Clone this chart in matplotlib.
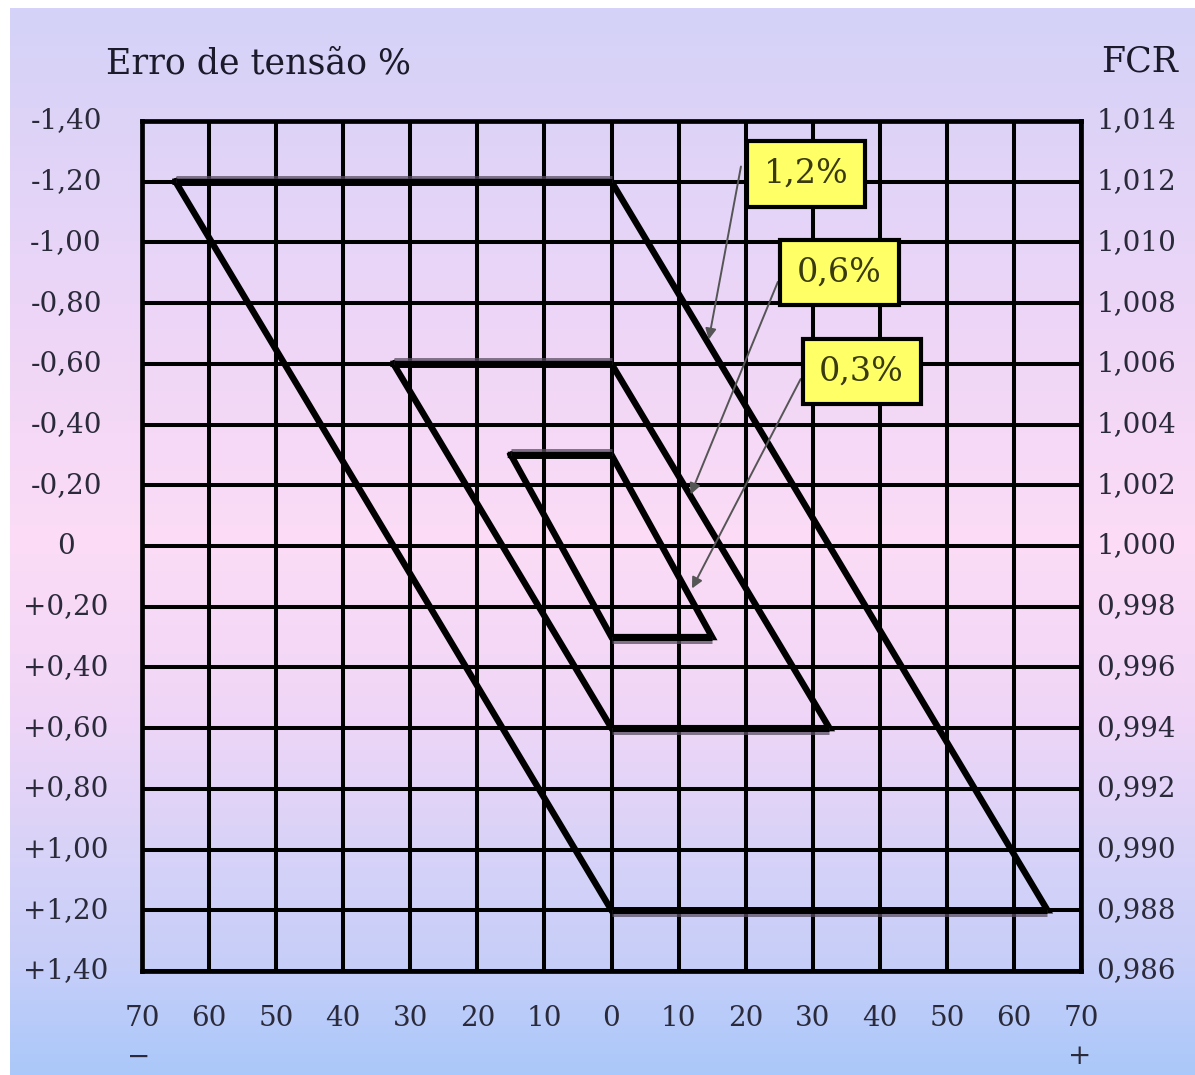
import matplotlib
matplotlib.use("Agg")
import matplotlib.pyplot as plt
import matplotlib.patheffects as pe
from matplotlib.colors import LinearSegmentedColormap
from matplotlib.transforms import blended_transform_factory
import numpy as np

# Axis values
x_ticks = [-70, -60, -50, -40, -30, -20, -10, 0, 10, 20, 30, 40, 50, 60, 70]
x_labels = ["70", "60", "50", "40", "30", "20", "10", "0", "10", "20", "30", "40", "50", "60", "70"]
y_ticks = [-1.4, -1.2, -1.0, -0.8, -0.6, -0.4, -0.2, 0.0, 0.2, 0.4, 0.6, 0.8, 1.0, 1.2, 1.4]
y_labels = ["-1,40", "-1,20", "-1,00", "-0,80", "-0,60", "-0,40", "-0,20", "0",
            "+0,20", "+0,40", "+0,60", "+0,80", "+1,00", "+1,20", "+1,40"]
fcr_labels = ["1,014", "1,012", "1,010", "1,008", "1,006", "1,004", "1,002", "1,000",
              "0,998", "0,996", "0,994", "0,992", "0,990", "0,988", "0,986"]

# Parallelogram limits (phase error, voltage error) for each accuracy class
band_12_x = [-65, 0, 65, 0, -65]
band_12_y = [-1.2, -1.2, 1.2, 1.2, -1.2]
band_06_x = [-32.5, 0, 32.5, 0, -32.5]
band_06_y = [-0.6, -0.6, 0.6, 0.6, -0.6]
band_03_x = [-15, 0, 15, 0, -15]
band_03_y = [-0.3, -0.3, 0.3, 0.3, -0.3]

# Callouts: label, box centre, arrow start, arrow tip
callout_labels = ["1,2%", "0,6%", "0,3%"]
callout_box = [(29.0, -1.225), (34.0, -0.90), (37.3, -0.575)]
callout_start = [(19.3, -1.25), (24.8, -0.87), (28.2, -0.55)]
callout_tip = [(14.5, -0.68), (11.8, -0.17), (12.0, 0.14)]

W, H = 1195, 1075
fig = plt.figure(figsize=(W / 100, H / 100), dpi=100)
fig.patch.set_facecolor("white")

# background gradient
bg = fig.add_axes([10 / W, 0, 1 - 10 / W, 1 - 8 / H], zorder=0)
cmap = LinearSegmentedColormap.from_list("bg", [
    (0.0, (212 / 255, 210 / 255, 248 / 255)),
    (0.30, (238 / 255, 214 / 255, 247 / 255)),
    (0.50, (252 / 255, 220 / 255, 246 / 255)),
    (0.66, (240 / 255, 214 / 255, 247 / 255)),
    (0.80, (214 / 255, 210 / 255, 248 / 255)),
    (0.90, (198 / 255, 206 / 255, 249 / 255)),
    (1.0, (170 / 255, 200 / 255, 250 / 255)),
])
bg.imshow(np.linspace(0, 1, 256).reshape(-1, 1), aspect="auto", cmap=cmap,
          extent=[0, 1, 1, 0])
bg.axis("off")

ax = fig.add_axes([142 / W, 1 - 971 / H, (1081 - 142) / W, (971 - 121) / H], zorder=1)
ax.patch.set_alpha(0)
ax.set_xlim(-70, 70)
ax.set_ylim(1.4, -1.4)
ax.set_xticks(x_ticks)
ax.set_yticks(y_ticks)
ax.tick_params(length=0, labelbottom=False, labelleft=False)
ax.grid(True, color="black", lw=2.9)
for s in ax.spines.values():
    s.set_linewidth(3.4)
    s.set_color("black")

shadow_up = [pe.SimpleLineShadow(offset=(0, 2.2), shadow_color="#5a4f63", alpha=0.75, rho=1),
             pe.Normal()]
shadow_dn = [pe.SimpleLineShadow(offset=(0, -2.2), shadow_color="#5a4f63", alpha=0.75, rho=1),
             pe.Normal()]
for bx, by in [(band_12_x, band_12_y), (band_06_x, band_06_y), (band_03_x, band_03_y)]:
    ax.plot(bx, by, color="black", lw=4.6, solid_joinstyle="miter", zorder=3)
    # top and bottom edges carry a grey shadow
    ax.plot(bx[0:2], by[0:2], color="black", lw=5, path_effects=shadow_up,
            solid_capstyle="butt", zorder=3)
    ax.plot(bx[2:4], by[2:4], color="black", lw=5, path_effects=shadow_dn,
            solid_capstyle="butt", zorder=3)

serif = "DejaVu Serif"
for lab, box, st, tip in zip(callout_labels, callout_box, callout_start, callout_tip):
    ax.annotate("", xy=tip, xytext=st,
                arrowprops=dict(arrowstyle="-|>", color="#555555", lw=1.4,
                                mutation_scale=16, shrinkA=0, shrinkB=0),
                zorder=4)
    ax.text(box[0], box[1], lab, ha="center", va="center", fontsize=24,
            family=serif, color="#3a3a10", zorder=5,
            bbox=dict(boxstyle="square,pad=0.5", fc="#ffff66", ec="black", lw=3))

# left and right scale labels
left_tr = blended_transform_factory(fig.transFigure, ax.transData)
for v, lab in zip(y_ticks, y_labels):
    ax.text(66 / W, v, lab, transform=left_tr, ha="center", va="center",
            fontsize=20, family=serif, color="#2a2a3a")
for v, lab in zip(y_ticks, fcr_labels):
    ax.text(1136 / W, v, lab, transform=left_tr, ha="center", va="center",
            fontsize=20, family=serif, color="#2a2a3a")

bottom_tr = blended_transform_factory(ax.transData, fig.transFigure)
for v, lab in zip(x_ticks, x_labels):
    ax.text(v, 1 - 1018 / H, lab, transform=bottom_tr, ha="center", va="center",
            fontsize=20, family=serif, color="#2a2a3a")

fig.text(139 / W, 1 - 1057 / H, "\u2212", ha="center", va="center", fontsize=20,
         family=serif, color="#2a2a3a")
fig.text(1080 / W, 1 - 1057 / H, "+", ha="center", va="center", fontsize=20,
         family=serif, color="#2a2a3a")

fig.text(106 / W, 1 - 64 / H, "Erro de tensão %", ha="left", va="center",
         fontsize=25, family=serif, color="#1a1a2a")
fig.text(1140 / W, 1 - 61 / H, "FCR", ha="center", va="center",
         fontsize=25, family=serif, color="#1a1a2a")

fig.savefig("out.png", dpi=100)
